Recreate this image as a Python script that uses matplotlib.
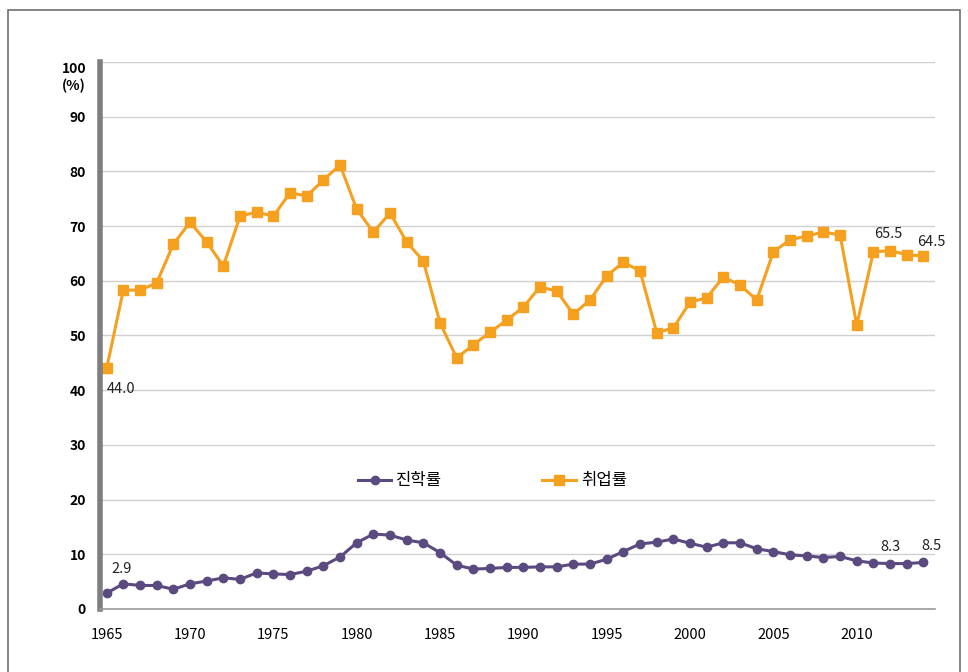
import matplotlib
matplotlib.use("Agg")
import matplotlib.pyplot as plt
from matplotlib.patches import Rectangle

plt.rcParams["font.family"] = ["Noto Sans CJK KR", "DejaVu Sans"]

years = list(range(1965, 2015))

# 진학률 (advancement rate)
advance = [2.9, 4.6, 4.3, 4.3, 3.6, 4.6, 5.1, 5.7, 5.4, 6.6,
           6.4, 6.3, 6.9, 7.9, 9.5, 12.1, 13.7, 13.5, 12.6, 12.1,
           10.3, 8.0, 7.3, 7.4, 7.6, 7.6, 7.7, 7.7, 8.2, 8.2,
           9.1, 10.5, 11.9, 12.2, 12.8, 12.0, 11.3, 12.1, 12.1, 11.0,
           10.5, 9.9, 9.7, 9.4, 9.6, 8.8, 8.4, 8.3, 8.3, 8.5]

# 취업률 (employment rate)
employ = [44.0, 58.3, 58.3, 59.6, 66.7, 70.7, 67.1, 62.7, 71.8, 72.6,
          71.8, 76.1, 75.5, 78.4, 81.2, 73.1, 68.9, 72.4, 67.1, 63.6,
          52.3, 45.9, 48.3, 50.6, 52.8, 55.2, 58.9, 58.1, 53.9, 56.5,
          60.9, 63.4, 61.8, 50.5, 51.4, 56.1, 56.9, 60.7, 59.2, 56.5,
          65.3, 67.5, 68.2, 68.9, 68.4, 51.9, 65.3, 65.5, 64.8, 64.5]

series_names = ["진학률", "취업률"]
xticks = list(range(1965, 2015, 5))
yticks = list(range(0, 101, 10))
ytick_labels = [str(v) for v in yticks[:-1]] + ["100\n(%)"]

PURPLE = "#5a4a80"
ORANGE = "#f5a01e"

fig = plt.figure(figsize=(9.68, 6.72), dpi=100)
fig.patches.append(Rectangle((0.008, -0.01), 0.984, 1.0 - 0.015 + 0.01,
                             transform=fig.transFigure, fill=False,
                             edgecolor="#707070", linewidth=1.2))
ax = fig.add_axes([0.1033, 0.0938, 0.8627, 0.8139])

ax.plot(years, advance, "-o", color=PURPLE, linewidth=2.2, markersize=6,
        label=series_names[0])
ax.plot(years, employ, "-s", color=ORANGE, linewidth=2.2, markersize=6.5,
        label=series_names[1])

ax.set_xlim(1964.6, 2014.7)
ax.set_ylim(0, 100)
ax.set_xticks(xticks)
ax.set_xticklabels([str(x) for x in xticks], fontsize=10.5)
ax.set_yticks(yticks)
ax.set_yticklabels(ytick_labels, fontsize=10, fontweight="bold")
for lbl in ax.get_yticklabels()[-1:]:
    lbl.set_verticalalignment("top")
    lbl.set_y(101.5)
ax.tick_params(axis="both", length=0, pad=10)
ax.tick_params(axis="x", pad=14)

ax.grid(axis="y", color="#d0d0d0", linewidth=1)
ax.set_axisbelow(True)
for side in ["top", "right"]:
    ax.spines[side].set_visible(False)
ax.spines["left"].set_color("#7f7f7f")
ax.spines["left"].set_linewidth(4)
ax.spines["bottom"].set_color("#9a9a9a")
ax.spines["bottom"].set_linewidth(1.2)

# value labels
def label(year, value, text, dx, dy, ha="center"):
    ax.annotate(text, (year, value), xytext=(dx, dy), textcoords="offset points",
                ha=ha, va="center", fontsize=10.5, color="#222222")

i = years.index
label(1965, employ[i(1965)], "44.0", 0, -15, ha="left")
label(2012, employ[i(2012)], "65.5", -1, 12)
label(2014, employ[i(2014)], "64.5", 6, 10)
label(1966, advance[i(1966)], "2.9", -1, 11)
label(2012, advance[i(2012)], "8.3", 0, 12)
label(2014, advance[i(2014)], "8.5", 6, 12)

ax.legend(loc="center", bbox_to_anchor=(0.47, 0.234), ncol=2, frameon=False,
          prop={"size": 12, "weight": "medium"}, columnspacing=6.0,
          handlelength=2.0, handletextpad=0.3)

fig.savefig("out.png", dpi=100)
